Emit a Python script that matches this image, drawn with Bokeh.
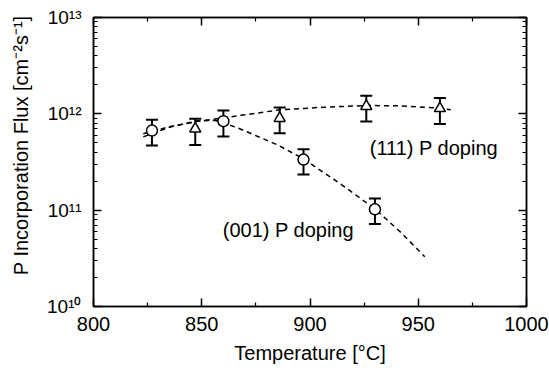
from bokeh.plotting import figure
from bokeh.models import ColumnDataSource, Whisker, TeeHead, LinearAxis, LogAxis, FixedTicker, Label
from bokeh.embed import file_html
from bokeh.resources import INLINE

# ---- data ----
temp_001 = [827, 860, 897, 930]
flux_001 = [6.7e11, 8.4e11, 3.35e11, 1.02e11]
err_hi_001 = [8.66e11, 1.08e12, 4.3e11, 1.32e11]
err_lo_001 = [4.69e11, 5.81e11, 2.34e11, 7.2e10]

temp_111 = [847, 886, 926, 960]
flux_111 = [7.0e11, 9.0e11, 1.2e12, 1.14e12]
err_hi_111 = [8.87e11, 1.16e12, 1.54e12, 1.46e12]
err_lo_111 = [4.76e11, 6.3e11, 8.32e11, 7.82e11]

fit_001_t = [823, 835, 848, 856, 866, 885, 897, 915, 930, 942, 953]
fit_001_f = [5.77e11, 7.24e11, 8.46e11, 8.56e11, 7.24e11, 4.76e11, 3.41e11, 1.81e11, 1.03e11, 5.87e10, 3.29e10]

fit_111_t = [823, 835, 848, 860, 868, 886, 906, 926, 942, 960, 965]
fit_111_f = [6.2e11, 7.33e11, 8.36e11, 9.09e11, 9.64e11, 1.10e12, 1.17e12, 1.22e12, 1.21e12, 1.15e12, 1.10e12]

x_major = [800, 850, 900, 950, 1000]
x_minor = [825, 875, 925, 975]
y_major = [1e10, 1e11, 1e12, 1e13]
y_labels = ["10¹⁰", "10¹¹", "10¹²", "10¹³"]

label_001 = "(001) P doping"
label_111 = "(111) P doping"
x_title = "Temperature [°C]"
y_title = "P Incorporation Flux [cm⁻²s⁻¹]"

FONT = "Liberation Sans"

p = figure(width=549, height=371, x_range=(800, 1000), y_range=(1e10, 1e13),
           y_axis_type="log", output_backend="svg", toolbar_location=None,
           min_border_left=93, min_border_right=23, min_border_top=17, min_border_bottom=65,
           background_fill_color="white", border_fill_color="white")
p.grid.visible = False
p.outline_line_color = "black"
p.outline_line_width = 1.5

y_minor = [m * 10 ** e for e in range(10, 13) for m in range(2, 10)]
xt = FixedTicker(ticks=x_major, minor_ticks=x_minor)
yt = FixedTicker(ticks=y_major, minor_ticks=y_minor)


def style(ax):
    ax.axis_line_color = "black"
    ax.axis_line_width = 1.5
    ax.major_tick_in = 8
    ax.major_tick_out = 0
    ax.minor_tick_in = 4
    ax.minor_tick_out = 0
    ax.major_tick_line_width = 1.5
    ax.minor_tick_line_width = 1.2
    ax.major_tick_line_color = "black"
    ax.minor_tick_line_color = "black"
    ax.major_label_text_font = FONT
    ax.major_label_text_color = "black"
    ax.axis_label_text_font = FONT
    ax.axis_label_text_font_style = "normal"
    ax.axis_label_text_color = "black"


xa = p.xaxis[0]
xa.ticker = xt
style(xa)
xa.major_label_text_font_size = "20px"
xa.major_label_standoff = 10
xa.axis_label = x_title
xa.axis_label_text_font_size = "20px"
xa.axis_label_standoff = 8

ya = p.yaxis[0]
ya.ticker = yt
style(ya)
ya.major_label_text_font_size = "19px"
ya.major_label_standoff = 12
ya.major_label_overrides = {v: s for v, s in zip(y_major, y_labels)}
# leading no-break spaces nudge the centred title upwards, as in the reference
ya.axis_label = "\u00a0" * 6 + y_title
ya.axis_label_text_font_size = "20px"
ya.axis_label_standoff = 12

# mirrored tick-only axes on top and right
top = LinearAxis(ticker=xt)
style(top)
top.major_label_text_font_size = "2px"
top.major_label_standoff = 0
top.major_label_overrides = {v: "" for v in x_major}
p.add_layout(top, "above")

right = LogAxis(ticker=yt)
style(right)
right.major_label_text_font_size = "2px"
right.major_label_standoff = 0
right.major_label_overrides = {v: "" for v in y_major}
p.add_layout(right, "right")

# dashed fit curves
p.line(fit_001_t, fit_001_f, line_dash="5 4", line_width=1.5, line_color="black")
p.line(fit_111_t, fit_111_f, line_dash="5 4", line_width=1.5, line_color="black")

# error bars
for t, hi, lo in ((temp_001, err_hi_001, err_lo_001), (temp_111, err_hi_111, err_lo_111)):
    src = ColumnDataSource(dict(x=t, upper=hi, lower=lo))
    w = Whisker(source=src, base="x", upper="upper", lower="lower", dimension="height",
                line_width=2, line_color="black",
                upper_head=TeeHead(size=12, line_width=2, line_color="black"),
                lower_head=TeeHead(size=12, line_width=2, line_color="black"),
                level="underlay")
    p.add_layout(w)

# markers
p.scatter(temp_001, flux_001, marker="circle", size=11, fill_color="white",
          line_color="black", line_width=1.5)
p.scatter(temp_111, flux_111, marker="triangle", size=11, fill_color="white",
          line_color="black", line_width=1.5)

p.add_layout(Label(x=859.7, y=6.2e10, text=label_001, text_font=FONT, text_font_size="20px",
                   text_baseline="middle", text_align="left", text_color="black"))
p.add_layout(Label(x=927.6, y=4.43e11, text=label_111, text_font=FONT, text_font_size="20px",
                   text_baseline="middle", text_align="left", text_color="black"))

open("out.html", "w").write(file_html(p, INLINE))
